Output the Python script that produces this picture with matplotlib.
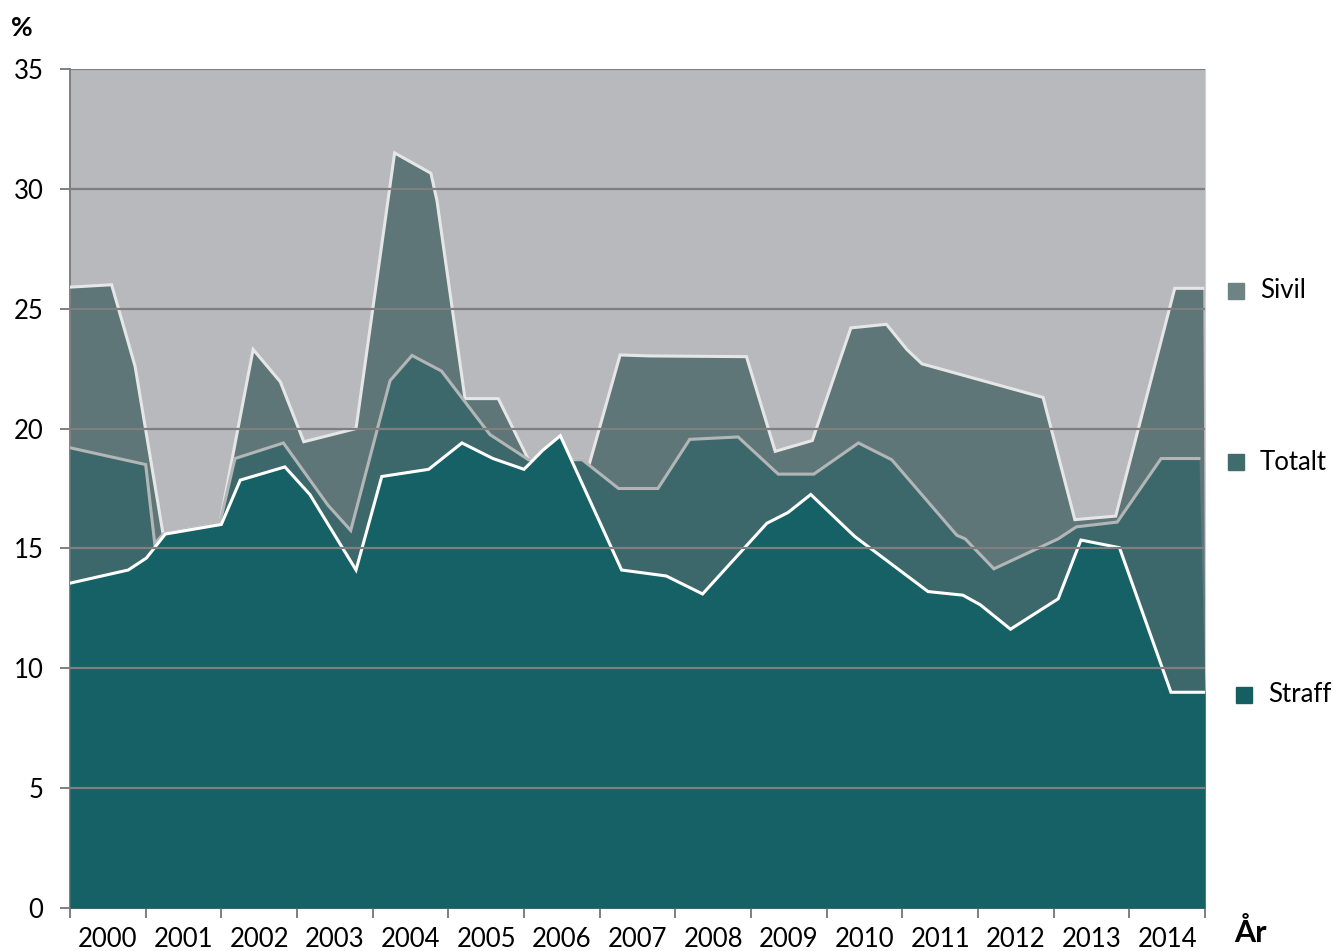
import matplotlib.pyplot as plt
from matplotlib.patches import Rectangle
import numpy as np

# x positions as fractional years, values in %
sivil_x = [2000.0, 2000.55, 2000.86, 2001.23, 2001.98, 2002.42, 2002.78, 2003.09, 2003.78,
           2004.29, 2004.77, 2004.85, 2005.22, 2005.66, 2006.06, 2006.65, 2006.77, 2006.83,
           2007.27, 2007.66, 2008.94, 2009.32, 2009.81, 2010.32, 2010.79, 2011.06, 2011.26,
           2012.86, 2013.28, 2013.82, 2014.6, 2014.97, 2015.0]
sivil_y = [25.9, 26.0, 22.6, 15.6, 16.05, 23.3, 21.95, 19.45, 20.0,
           31.5, 30.65, 29.5, 21.25, 21.25, 18.7, 18.7, 18.7, 18.15,
           23.07, 23.03, 23.0, 19.05, 19.5, 24.2, 24.35, 23.3, 22.7,
           21.3, 16.2, 16.35, 25.85, 25.85, 9.0]

totalt_x = [2000.0, 2001.0, 2001.12, 2001.23, 2001.98, 2002.18, 2002.82, 2003.41, 2003.71,
            2004.23, 2004.52, 2004.91, 2005.55, 2006.06, 2006.77, 2007.25, 2007.77, 2008.19,
            2008.83, 2009.36, 2009.83, 2010.42, 2010.86, 2011.72, 2011.83, 2012.21, 2013.06,
            2013.3, 2013.84, 2014.42, 2014.92, 2015.0]
totalt_y = [19.2, 18.5, 15.2, 15.6, 16.05, 18.75, 19.4, 16.8, 15.75,
            22.0, 23.05, 22.4, 19.75, 18.7, 18.7, 17.5, 17.5, 19.55,
            19.65, 18.1, 18.1, 19.4, 18.7, 15.55, 15.4, 14.15, 15.4,
            15.9, 16.1, 18.75, 18.75, 9.0]

straff_x = [2000.0, 2000.77, 2001.01, 2001.26, 2002.0, 2002.25, 2002.84, 2003.17, 2003.78,
            2004.12, 2004.74, 2005.18, 2005.59, 2006.0, 2006.25, 2006.48, 2007.29, 2007.88,
            2008.36, 2009.21, 2009.49, 2009.79, 2010.37, 2011.34, 2011.8, 2012.03, 2012.43,
            2013.06, 2013.36, 2013.87, 2014.55, 2015.0]
straff_y = [13.55, 14.1, 14.6, 15.6, 16.0, 17.85, 18.4, 17.25, 14.1,
            18.0, 18.3, 19.4, 18.75, 18.3, 19.1, 19.7, 14.1, 13.85,
            13.1, 16.05, 16.5, 17.25, 15.5, 13.2, 13.05, 12.65, 11.63,
            12.9, 15.35, 15.03, 9.0, 9.0]

years = list(range(2000, 2015))
yticks = [0, 5, 10, 15, 20, 25, 30, 35]

plt.rcParams['font.family'] = ['Lato', 'DejaVu Sans']

fig = plt.figure(figsize=(13.33, 9.51), dpi=100)
ax = fig.add_axes([70 / 1333, 43 / 951, 1135 / 1333, 839 / 951])
ax.set_facecolor('#b8b9bd')

series = [
    (sivil_x, sivil_y, '#5e7677', '#e6e6e6', True),
    (totalt_x, totalt_y, '#3d686b', '#b3b6b7', True),
    (straff_x, straff_y, '#156165', '#ffffff', False),
]
for i, (x, y, fc, lc, trim) in enumerate(series):
    ax.fill_between(x, 0, y, color=fc, lw=0, zorder=2 + i * 2)
    n = len(x) - 1 if trim else len(x)
    ax.plot(x[:n], y[:n], color=lc, lw=2.2, zorder=3 + i * 2, solid_joinstyle='miter')

for v in yticks[1:]:
    ax.axhline(v, color='#7f7f7f', lw=1.6, zorder=10)

ax.set_xlim(2000, 2015)
ax.set_ylim(0, 35)
ax.set_yticks(yticks)
ax.set_xticks(np.arange(2000, 2016))
ax.set_xticklabels([])
ax.set_xticks([y + 0.5 for y in years], minor=True)
ax.set_xticklabels([str(y) for y in years], minor=True)
ax.tick_params(axis='x', which='major', length=7, color='#7f7f7f', width=1.4)
ax.tick_params(axis='x', which='minor', length=0, pad=14, labelsize=18.5)
ax.tick_params(axis='y', length=7, color='#7f7f7f', width=1.4, labelsize=18.5, pad=12)

ax.spines['top'].set_visible(False)
ax.spines['right'].set_color('#d0d0d0')
for s in ['left', 'bottom']:
    ax.spines[s].set_color('#7f7f7f')
    ax.spines[s].set_linewidth(1.4)

fig.text(22 / 1333, 1 - 28 / 951, '%', fontsize=19, fontweight='bold', ha='center', va='center')
fig.text(1250 / 1333, 1 - 932 / 951, 'År', fontsize=22, fontweight='bold', ha='center', va='center')

legend = [('Sivil', '#6d8384', 1228, 291), ('Totalt', '#416c6e', 1228, 462), ('Straff', '#155f63', 1236, 695)]
for name, col, lx, ly in legend:
    fig.patches.append(Rectangle((lx / 1333, 1 - (ly + 8) / 951), 16 / 1333, 16 / 951,
                                 transform=fig.transFigure, color=col))
    fig.text((lx + 32) / 1333, 1 - ly / 951, name, fontsize=18.5, ha='left', va='center')

fig.savefig('out.png', dpi=100)
